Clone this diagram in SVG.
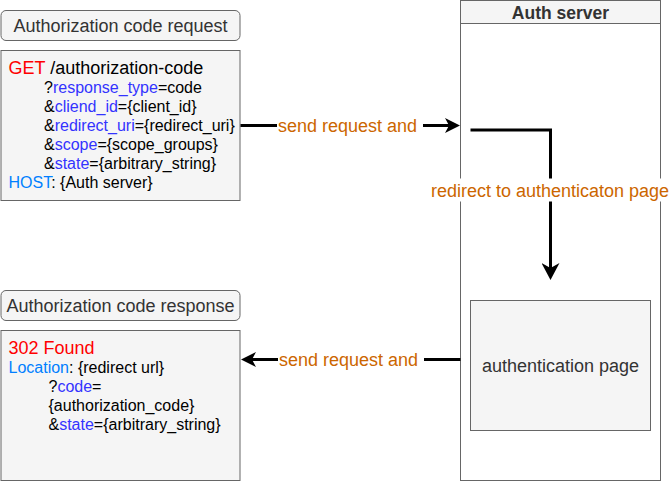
<svg xmlns="http://www.w3.org/2000/svg" width="670" height="481" viewBox="0 0 670 481">
<style>
  text { font-family: "Liberation Sans", Arial, Helvetica, sans-serif; }
  .box { fill: #f5f5f5; stroke: #666666; stroke-width: 1; }
  .lane { fill: #ffffff; stroke: #666666; stroke-width: 1; }
  .title { font-size: 18px; fill: #333333; text-anchor: middle; }
  .code { font-size: 16px; fill: #000000; }
  .big { font-size: 18px; }
  .red { fill: #ff0000; }
  .blue { fill: #3333ff; }
  .lblue { fill: #007fff; }
  .edge { fill: none; stroke: #000000; stroke-width: 3; }
  .elabel { font-size: 18px; fill: #cc6600; text-anchor: middle; }
  .lbg { fill: #ffffff; stroke: none; }
</style>
<defs>
  <marker id="arrow" markerUnits="userSpaceOnUse" markerWidth="15" markerHeight="15" viewBox="0 0 15 15" refX="6" refY="7.5" orient="auto">
    <path d="M0,0 L15,7.5 L0,15 L4,7.5 Z" fill="#000000"/>
  </marker>
  <marker id="arrowBig" markerUnits="userSpaceOnUse" markerWidth="17" markerHeight="18" viewBox="0 0 17 18" refX="7" refY="9" orient="auto">
    <path d="M0,0 L17,9 L0,18 L5,9 Z" fill="#000000"/>
  </marker>
</defs>
<rect width="670" height="481" fill="#ffffff"/>

<g id="request-label">
  <rect class="box" x="1" y="10.5" width="239" height="30" rx="5" ry="5"/>
  <text class="title" x="120.5" y="32">Authorization code request</text>
</g>

<g id="request">
  <rect class="box" x="1" y="50.5" width="239" height="150"/>
  <text class="code big" x="8.5" y="74"><tspan class="red">GET</tspan> /authorization-code</text>
  <text class="code" x="44" y="93">?<tspan class="blue">response_type</tspan>=code</text>
  <text class="code" x="44" y="112">&amp;<tspan class="blue">cliend_id</tspan>={client_id}</text>
  <text class="code" x="44" y="131">&amp;<tspan class="blue">redirect_uri</tspan>={redirect_uri}</text>
  <text class="code" x="44" y="150">&amp;<tspan class="blue">scope</tspan>={scope_groups}</text>
  <text class="code" x="44" y="169">&amp;<tspan class="blue">state</tspan>={arbitrary_string}</text>
  <text class="code" x="8.5" y="188"><tspan class="lblue">HOST</tspan>: {Auth server}</text>
</g>

<g id="response-label">
  <rect class="box" x="1" y="290.5" width="239" height="30" rx="5" ry="5"/>
  <text class="title" x="120.5" y="312">Authorization code response</text>
</g>

<g id="response">
  <rect class="box" x="1" y="330.5" width="239" height="150"/>
  <text class="code big red" x="8.5" y="353.5">302 Found</text>
  <text class="code" x="8.5" y="372.5"><tspan class="lblue">Location</tspan>: {redirect url}</text>
  <text class="code" x="48.5" y="391.5">?<tspan class="blue">code</tspan>=</text>
  <text class="code" x="48.5" y="410.5">{authorization_code}</text>
  <text class="code" x="48.5" y="429.5">&amp;<tspan class="blue">state</tspan>={arbitrary_string}</text>
</g>

<g id="auth-server">
  <rect class="lane" x="460.5" y="0.5" width="200" height="480"/>
  <rect class="box" x="460.5" y="0.5" width="200" height="23"/>
  <text x="560.5" y="18.5" font-size="17.5" font-weight="bold" fill="#333333" text-anchor="middle">Auth server</text>
</g>

<g id="authentication-page">
  <rect class="box" x="470.5" y="300.5" width="180" height="130"/>
  <text class="title" x="560.5" y="372">authentication page</text>
</g>

<g id="connectors">
  <g id="edge-request">
    <path class="edge" d="M240.5 125.5 H451" marker-end="url(#arrow)"/>
    <rect class="lbg" x="277" y="114.5" width="146" height="22"/>
    <text class="elabel" x="347.5" y="132">send request and</text>
  </g>
  <g id="edge-redirect">
    <path class="edge" d="M470.5 130 H550.5 V270" marker-end="url(#arrowBig)"/>
    <rect class="lbg" x="430" y="178.5" width="241" height="23"/>
    <text class="elabel" x="550" y="196.8">redirect to authenticaton page</text>
  </g>
  <g id="edge-response">
    <path class="edge" d="M460.5 359.5 H250" marker-end="url(#arrow)"/>
    <rect class="lbg" x="278" y="348.5" width="146" height="22"/>
    <text class="elabel" x="348.5" y="366">send request and</text>
  </g>
</g>
</svg>
